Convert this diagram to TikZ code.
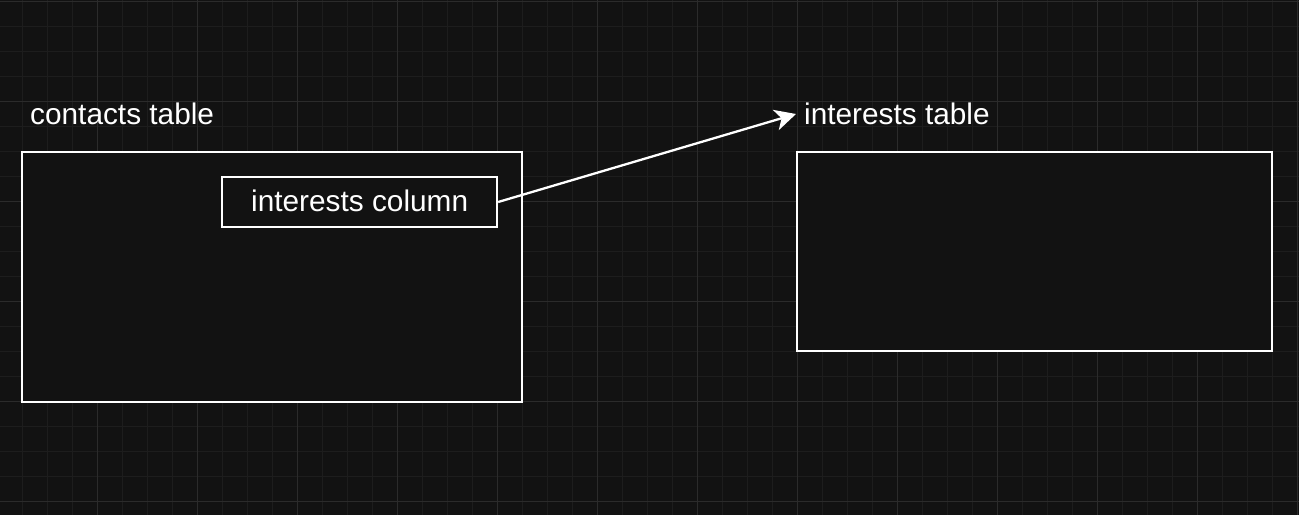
\documentclass[tikz,border=0pt]{standalone}
\usepackage{fontspec}
\setmainfont{Liberation Sans}
\usetikzlibrary{arrows.meta}
\definecolor{bg}{HTML}{121212}
\definecolor{gminor}{HTML}{1D1D1D}
\definecolor{gmajor}{HTML}{2B2B2B}
\tikzset{
  tbl/.style={draw=white, line width=2.3pt},
  lbl/.style={text=white, font=\fontsize{29.8}{34}\selectfont, inner sep=0pt, anchor=base west},
  conn/.style={draw=white, line width=2.3pt, -{Stealth[length=21pt,width=21pt,inset=6pt]}}
}
\begin{document}
\begin{tikzpicture}[x=1pt,y=-1pt]
\fill[bg] (0,0) rectangle (1299,515);
\useasboundingbox (0,0) rectangle (1299,515);
% minor grid
\foreach \i in {0,...,52} {\draw[gminor, line width=1pt] ({-3+25*\i},0) -- ({-3+25*\i},515);}
\foreach \j in {0,...,20} {\draw[gminor, line width=1pt] (0,{1+25*\j}) -- (1299,{1+25*\j});}
% major grid
\foreach \i in {0,...,13} {\draw[gmajor, line width=1pt] ({-3+100*\i},0) -- ({-3+100*\i},515);}
\foreach \j in {0,...,5} {\draw[gmajor, line width=1pt] (0,{1+100*\j}) -- (1299,{1+100*\j});}
% tables
\draw[tbl, fill=bg] (22,152) rectangle (522,402);
\draw[tbl, fill=bg] (797,152) rectangle (1272,351);
\node[tbl, fill=bg, minimum width=275pt, minimum height=50pt, inner sep=0pt] (col) at (359.5,202) {};
\node[lbl] (ct) at (30,124) {contacts table};
\node[lbl] (cl) at (251,211) {interests column};
\node[lbl] (it) at (804,124) {interests table};
\coordinate (tip) at (796,114);
\draw[conn] (col.east) -- (tip);
\end{tikzpicture}
\end{document}
